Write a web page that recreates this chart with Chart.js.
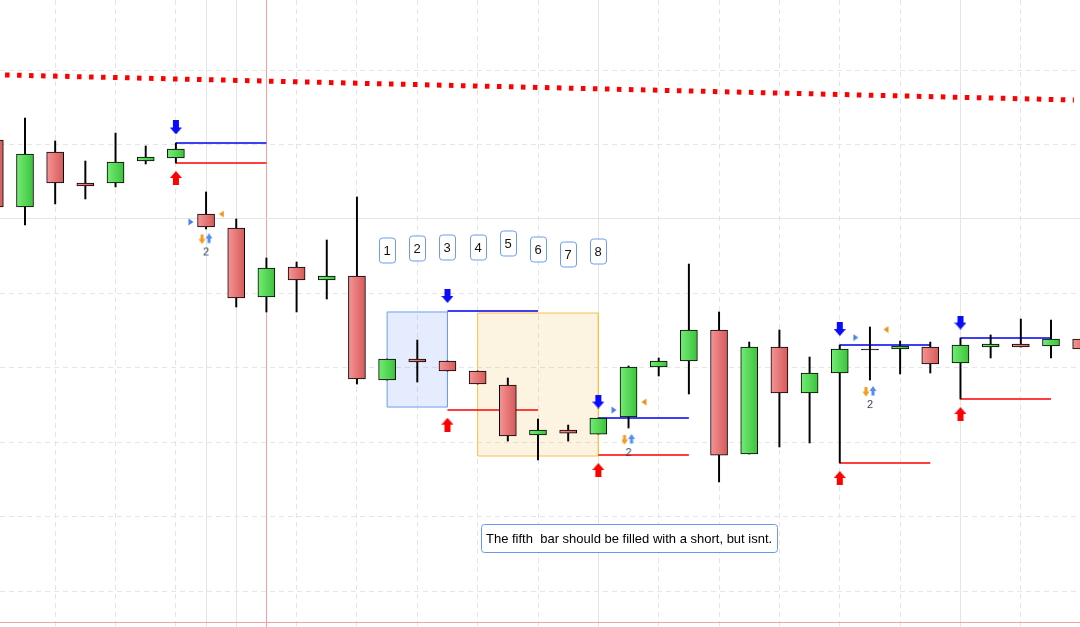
<!DOCTYPE html>
<html><head><meta charset="utf-8">
<script src="https://cdn.jsdelivr.net/npm/chart.js@4.4.1/dist/chart.umd.min.js"></script>
<style>html,body{margin:0;padding:0;background:#fff;overflow:hidden}canvas{display:block}</style>
</head><body>
<canvas id="c" width="1080" height="627"></canvas>
<script>
// ---- candle data (bar index, OHLC prices) ----
const bars   = [0,1,2,3,4,5,6,7,8,9,10,11,12,13,14,15,16,17,18,19,20,21,22,23,24,25,26,27,28,29,30,31,32,33,34,35,36];
const opens  = [1210.61,1201.61,1209.00,1204.84,1204.84,1207.79,1208.20,1200.67,1198.79,1189.52,1193.55,1191.80,1192.34,1178.37,1181.19,1180.92,1179.58,1177.70,1170.98,1171.65,1171.11,1173.40,1180.12,1180.92,1185.09,1168.43,1182.80,1176.62,1179.31,1182.40,1182.53,1182.80,1180.65,1182.80,1183.21,1182.94,1183.88];
const highs  = [1211.96,1213.57,1210.48,1207.79,1211.55,1209.81,1210.21,1203.63,1200.00,1194.76,1194.22,1197.18,1202.96,1181.19,1183.74,1180.92,1179.58,1178.64,1173.13,1172.32,1173.26,1180.25,1181.33,1193.95,1187.51,1183.47,1185.09,1181.46,1183.07,1185.49,1183.61,1183.47,1184.01,1184.42,1186.56,1186.43,1184.42];
const lows   = [1200.54,1199.19,1202.02,1202.69,1204.30,1207.39,1207.52,1198.66,1188.18,1187.51,1187.51,1189.25,1177.83,1178.37,1178.10,1179.58,1177.83,1170.17,1167.62,1170.17,1171.11,1171.92,1178.91,1176.49,1164.67,1168.43,1169.37,1169.91,1167.22,1178.37,1179.18,1179.31,1175.82,1181.33,1182.80,1181.33,1182.13];
const closes = [1201.61,1208.73,1204.84,1204.44,1207.66,1208.33,1209.40,1198.93,1189.39,1193.42,1191.80,1192.34,1178.50,1181.19,1180.79,1179.58,1177.83,1170.85,1171.65,1171.22,1173.26,1180.12,1180.92,1185.09,1168.29,1182.80,1176.62,1179.31,1182.53,1182.40,1182.94,1180.52,1183.07,1183.21,1182.80,1183.88,1182.53];

// ---- trade stop levels ----
const stopFrom = [6,15,20,28,32];
const stopTo   = [9,18,23,31,35];
const stopHigh = [1210.21,1187.64,1173.26,1183.07,1184.01];
const stopLow  = [1207.52,1174.34,1168.29,1167.22,1175.82];

// ---- signal markers ----
const entryX   = [6,15,20,28,32];
const shortY   = [1212.30,1189.66,1175.48,1185.22,1186.09];
const longY    = [1205.51,1172.36,1166.28,1165.20,1173.80];
const triBlueX = [6.50,20.52,28.53];
const triBlueY = [1199.60,1174.34,1184.08];
const triOrgX  = [7.51,21.51,29.53];
const triOrgY  = [1200.67,1175.41,1185.15];
const pairX    = [7,21,29];
const pairY    = [1196.44,1169.50,1175.95];

// ---- zones ----
const zoneFrom   = [13,16];
const zoneTo     = [15,20];
const zoneTop    = [1187.51,1187.37];
const zoneBottom = [1174.74,1168.16];

// ---- trend line ----
const trendX = [0.34,35.76];
const trendY = [1219.35,1215.99];

// ---- labels ----
const labelText = ['1','2','3','4','5','6','7','8'];
const labelX    = [13,14,15,16,17,18,19,20];
const labelY    = [1195.84,1196.10,1196.24,1196.24,1196.78,1195.97,1195.30,1195.70];
const noteText  = 'The fifth  bar should be filled with a short, but isnt.';
const noteX     = 21;
const noteY     = 1157.14;

// ---- grid ticks ----
const gridXDashed = [0,2,4,6,8,10,12,14,16,18,20,22,24,26,28,30,32,34,36];
const gridXSolid  = [7,8,9,20,32];
const gridXMarked = [9];
const gridYDashed = [1150,1160,1170,1180,1190,1200,1210,1220];
const gridYSolid  = [1200,1145.86];
const gridYMarked = [1145.86];

const X_MIN = 0.1715, X_MAX = 35.961, Y_MIN = 1145.19, Y_MAX = 1229.42;

// ---- marker images ----
function mk(w,h,draw){const c=document.createElement('canvas');c.width=w;c.height=h;draw(c.getContext('2d'));return c;}
function poly(g,pts,fill){g.beginPath();g.moveTo(pts[0][0],pts[0][1]);for(let k=1;k<pts.length;k++)g.lineTo(pts[k][0],pts[k][1]);g.closePath();g.fillStyle=fill;g.fill();}
const imgDown = mk(12,14,g=>poly(g,[[3,0],[9,0],[9,7],[12,7],[6,14],[0,7],[3,7]],'#0a0aff'));
const imgUp   = mk(12,14,g=>poly(g,[[6,0],[12,7],[9,7],[9,14],[3,14],[3,7],[0,7]],'#ff0000'));
const imgTriB = mk(6,8,g=>poly(g,[[0.5,0.5],[5.5,4],[0.5,7.5]],'#4a80ea'));
const imgTriO = mk(6,8,g=>poly(g,[[5.5,0.5],[0.5,4],[5.5,7.5]],'#ee9412'));
const imgPair = mk(14,24,g=>{
  poly(g,[[1.5,1],[4.5,1],[4.5,5.5],[6.5,5.5],[3,10.5],[-0.5,5.5],[1.5,5.5]],'#f59b1f');
  poly(g,[[10,0],[13.5,5],[11.5,5],[11.5,9.5],[8.5,9.5],[8.5,5],[6.5,5]],'#4d8ff5');
  g.fillStyle='#34405a';g.font='11px "Liberation Sans", Arial, sans-serif';g.textAlign='center';g.textBaseline='middle';g.fillText('2',7,19);
});

function pts(xs,ys){return xs.map((x,k)=>({x:x,y:ys[k]}));}
function segs(from,to,lvl){const out=[];from.forEach((f,k)=>{out.push({x:f,y:lvl[k]},{x:to[k],y:lvl[k]},{x:(to[k]+f)/2,y:null});});return out;}
function box(k){return [{x:zoneFrom[k],y:zoneTop[k]},{x:zoneTo[k],y:zoneTop[k]},{x:zoneTo[k],y:zoneBottom[k]},{x:zoneFrom[k],y:zoneBottom[k]},{x:zoneFrom[k],y:zoneTop[k]}];}

function bodyFill(ctx){
  const i=ctx.dataIndex, o=opens[i], c=closes[i];
  const cols = c===o ? ['#000','#000'] : (c>o ? ['#74ec74','#3cc23c'] : ['#f79494','#d45a5a']);
  const xs = ctx.chart.scales && ctx.chart.scales.x;
  if(!xs) return cols[1];
  const px = xs.getPixelForValue(bars[i]);
  if(!isFinite(px)) return cols[1];
  const g = ctx.chart.ctx.createLinearGradient(px-8.5,0,px+8.5,0);
  g.addColorStop(0,cols[0]); g.addColorStop(1,cols[1]);
  return g;
}

function rr(g,x,y,w,h,r){g.beginPath();g.moveTo(x+r,y);g.lineTo(x+w-r,y);g.quadraticCurveTo(x+w,y,x+w,y+r);g.lineTo(x+w,y+h-r);g.quadraticCurveTo(x+w,y+h,x+w-r,y+h);g.lineTo(x+r,y+h);g.quadraticCurveTo(x,y+h,x,y+h-r);g.lineTo(x,y+r);g.quadraticCurveTo(x,y,x+r,y);g.closePath();}

const notesPlugin = {
  id:'notes',
  afterDatasetsDraw(chart){
    const g=chart.ctx, xs=chart.scales.x, ys=chart.scales.y;
    g.save();
    g.textAlign='center'; g.textBaseline='middle';
    g.font='13px "Liberation Sans", Arial, sans-serif';
    labelText.forEach((t,k)=>{
      const cx=Math.round(xs.getPixelForValue(labelX[k])), cy=Math.round(ys.getPixelForValue(labelY[k]));
      rr(g,cx-8+0.5,cy-12.5+0.5,16,25,3);
      g.fillStyle='#fff'; g.fill(); g.strokeStyle='#6d9cef'; g.lineWidth=1; g.stroke();
      g.fillStyle='#111'; g.fillText(t,cx,cy+1);
    });
    const nx=xs.getPixelForValue(noteX), ny=Math.round(ys.getPixelForValue(noteY));
    const tw=g.measureText(noteText).width;
    const bw=Math.round(tw+10), bx=Math.round(nx-bw/2);
    rr(g,bx+0.5,ny-14+0.5,bw,28,3);
    g.fillStyle='#fff'; g.fill(); g.strokeStyle='#6897f0'; g.lineWidth=1; g.stroke();
    g.fillStyle='#000'; g.textAlign='left'; g.fillText(noteText,bx+5,ny+1);
    g.restore();
  }
};

const ticksFrom = arr => s => { s.ticks = arr.map(v=>({value:v})); };
const hideTicks = {display:false};

new Chart(document.getElementById('c'),{
  type:'line',
  data:{datasets:[
    {type:'line',label:'zone1',data:box(0),borderColor:'#6d9cef',backgroundColor:'rgba(80,130,240,0.15)',borderWidth:1,fill:'shape',pointRadius:0,order:10},
    {type:'line',label:'zone2',data:box(1),borderColor:'#f7c24e',backgroundColor:'rgba(242,175,55,0.15)',borderWidth:1,fill:'shape',pointRadius:0,order:10},
    {type:'line',label:'trend',data:pts(trendX,trendY),borderColor:'#ff0000',borderWidth:5,borderDash:[4.5,7.5],borderCapStyle:'butt',pointRadius:0,fill:false,order:9},
    {type:'line',label:'stopHigh',data:segs(stopFrom,stopTo,stopHigh),borderColor:'#0000ee',borderWidth:1.5,pointRadius:0,fill:false,spanGaps:false,order:8},
    {type:'line',label:'stopLow',data:segs(stopFrom,stopTo,stopLow),borderColor:'#ff0000',borderWidth:1.5,pointRadius:0,fill:false,spanGaps:false,order:8},
    {type:'bar',label:'wick',data:bars.map(i=>({x:i,y:[lows[i],highs[i]]})),backgroundColor:'#000',borderWidth:0,barThickness:1.3,grouped:false,order:5},
    {type:'bar',label:'body',data:bars.map(i=>({x:i,y:[opens[i],closes[i]]})),backgroundColor:bodyFill,borderColor:'#000',borderWidth:1,borderSkipped:false,barThickness:17,minBarLength:1,grouped:false,order:4},
    {type:'scatter',label:'short',data:pts(entryX,shortY),pointStyle:imgDown,pointRadius:4,showLine:false,order:1},
    {type:'scatter',label:'long',data:pts(entryX,longY),pointStyle:imgUp,pointRadius:4,showLine:false,order:1},
    {type:'scatter',label:'triB',data:pts(triBlueX,triBlueY),pointStyle:imgTriB,pointRadius:4,showLine:false,order:1},
    {type:'scatter',label:'triO',data:pts(triOrgX,triOrgY),pointStyle:imgTriO,pointRadius:4,showLine:false,order:1},
    {type:'scatter',label:'pair',data:pts(pairX,pairY),pointStyle:imgPair,pointRadius:4,showLine:false,order:1}
  ]},
  options:{
    responsive:false, animation:false, events:[],
    layout:{padding:0, autoPadding:false},
    plugins:{legend:{display:false},tooltip:{enabled:false}},
    scales:{
      x:{type:'linear',min:X_MIN,max:X_MAX,offset:false,afterBuildTicks:ticksFrom(gridXDashed),ticks:hideTicks,
         grid:{color:'#e4e4e4',lineWidth:1,drawTicks:false,offset:false},border:{display:false,dash:[5,4]}},
      x2:{type:'linear',position:'top',min:X_MIN,max:X_MAX,offset:false,afterBuildTicks:ticksFrom(gridXSolid),ticks:hideTicks,
         grid:{color:c=>(c.tick&&gridXMarked.includes(c.tick.value))?'#f5a0a0':'#e4e4e4',lineWidth:1,drawTicks:false,offset:false},border:{display:false}},
      y:{type:'linear',min:Y_MIN,max:Y_MAX,beginAtZero:false,afterBuildTicks:ticksFrom(gridYDashed),ticks:hideTicks,
         grid:{color:'#e6e6e6',lineWidth:1,drawTicks:false},border:{display:false,dash:[5,4]}},
      y2:{type:'linear',position:'right',min:Y_MIN,max:Y_MAX,beginAtZero:false,afterBuildTicks:ticksFrom(gridYSolid),ticks:hideTicks,
         grid:{color:c=>(c.tick&&gridYMarked.includes(c.tick.value))?'#f5a0a0':'#e4e4e4',lineWidth:1,drawTicks:false},border:{display:false}}
    }
  },
  plugins:[notesPlugin]
});
</script></body></html>
